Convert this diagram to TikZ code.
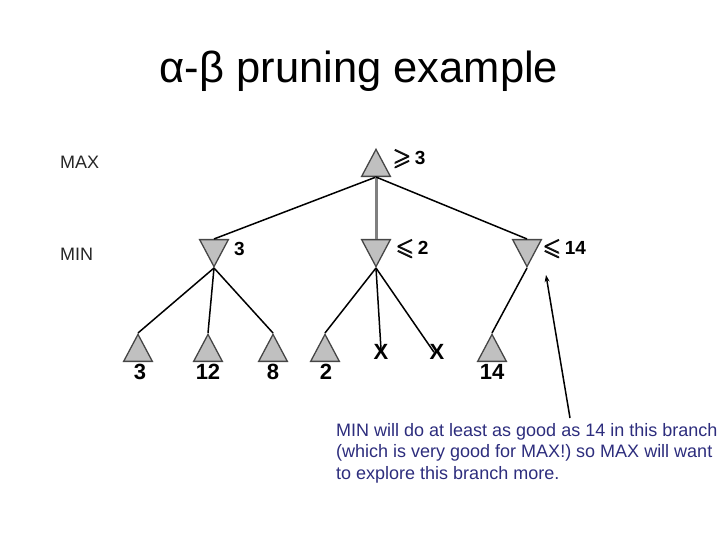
\documentclass[tikz,border=0pt]{standalone}
\usepackage{amsmath,amssymb}
\usepackage{fontspec}
\setmainfont{Liberation Sans}
\usetikzlibrary{shapes.geometric,arrows.meta}
\definecolor{navy}{RGB}{45,45,125}
\definecolor{trifill}{RGB}{192,192,192}
\definecolor{triedge}{RGB}{70,70,70}
\newcommand{\mygeq}{\raisebox{-1pt}{\scalebox{1.25}{\pmb{$\geqslant$}}}\,}
\newcommand{\myleq}{\raisebox{-1pt}{\scalebox{1.25}{\pmb{$\leqslant$}}}\,}
\tikzset{
  tri/.style={isosceles triangle, isosceles triangle apex angle=56, minimum height=27pt,
    inner sep=0pt, fill=trifill, draw=triedge, line width=1.3pt},
  maxtri/.style={tri, shape border rotate=90},
  mintri/.style={tri, shape border rotate=-90},
  edge/.style={line width=1.5pt, black},
  numlab/.style={font=\bfseries\fontsize{19}{19}\selectfont, inner sep=0pt},
  leaflab/.style={font=\bfseries\fontsize{22}{22}\selectfont, inner sep=0pt},
  sidelab/.style={font=\fontsize{18}{18}\selectfont, text=black!85, inner sep=0pt, anchor=west},
}
\begin{document}
\begin{tikzpicture}[x=1pt,y=-1pt]
\useasboundingbox (0,0) rectangle (720,540);
% title
\node[font=\fontsize{43.5}{43.5}\selectfont, inner sep=0pt] (title) at (359,71) {α-β pruning example};
% side labels
\node[sidelab] (maxl) at (60,162) {MAX};
\node[sidelab] (minl) at (60,254) {MIN};
% tree nodes
\node[maxtri, anchor=apex] (root) at (376,148) {};
\node[mintri, anchor=apex] (m1) at (214,268) {};
\node[mintri, anchor=apex] (m2) at (376,268) {};
\node[mintri, anchor=apex] (m3) at (527,268) {};
\node[maxtri, anchor=apex] (l1) at (138,333) {};
\node[maxtri, anchor=apex] (l2) at (208,333) {};
\node[maxtri, anchor=apex] (l3) at (273,333) {};
\node[maxtri, anchor=apex] (l4) at (325,333) {};
\node[maxtri, anchor=apex] (l5) at (492,333) {};
\node[leaflab] (x1) at (381,352) {X};
\node[leaflab] (x2) at (437,352) {X};
% value labels
\node[numlab, anchor=west] (rv) at (393,159) {\mygeq 3};
\node[numlab, anchor=west] (m1v) at (234,249) {3};
\node[numlab, anchor=west] (m2v) at (396,249) {\myleq 2};
\node[numlab, anchor=west] (m3v) at (543,249) {\myleq 14};
\node[leaflab] (l1v) at (140,372) {3};
\node[leaflab] (l2v) at (208,372) {12};
\node[leaflab] (l3v) at (273,372) {8};
\node[leaflab] (l4v) at (326,372) {2};
\node[leaflab] (l5v) at (492,372) {14};
% edges
\draw[edge] (root.lower side) -- (m1.lower side);
\draw[gray, line width=3pt] (root.lower side) -- (m2.lower side);
\draw[edge] (root.lower side) -- (m3.lower side);
\draw[edge] (m1.apex) -- (l1.apex);
\draw[edge] (m1.apex) -- (l2.apex);
\draw[edge] (m1.apex) -- (l3.apex);
\draw[edge] (m2.apex) -- (l4.apex);
\draw[edge] (m2.apex) -- ([yshift=-5pt]x1.north);
\draw[edge] (m2.apex) -- ([xshift=-3pt,yshift=-8pt]x2.north);
\draw[edge] (m3.apex) -- (l5.apex);
% comment
\coordinate (tip) at (546,275);
\coordinate (tail) at (570,418);
\node[font=\fontsize{18}{21.5}\selectfont, text=navy, align=left, anchor=north west, inner sep=0pt] (note) at (336,423)
  {MIN will do at least as good as 14 in this branch\\(which is very good for MAX!) so MAX will want\\to explore this branch more.};
\draw[line width=1.5pt, -{Stealth[length=7pt,width=5pt]}] (tail) -- (tip);
\end{tikzpicture}
\end{document}
